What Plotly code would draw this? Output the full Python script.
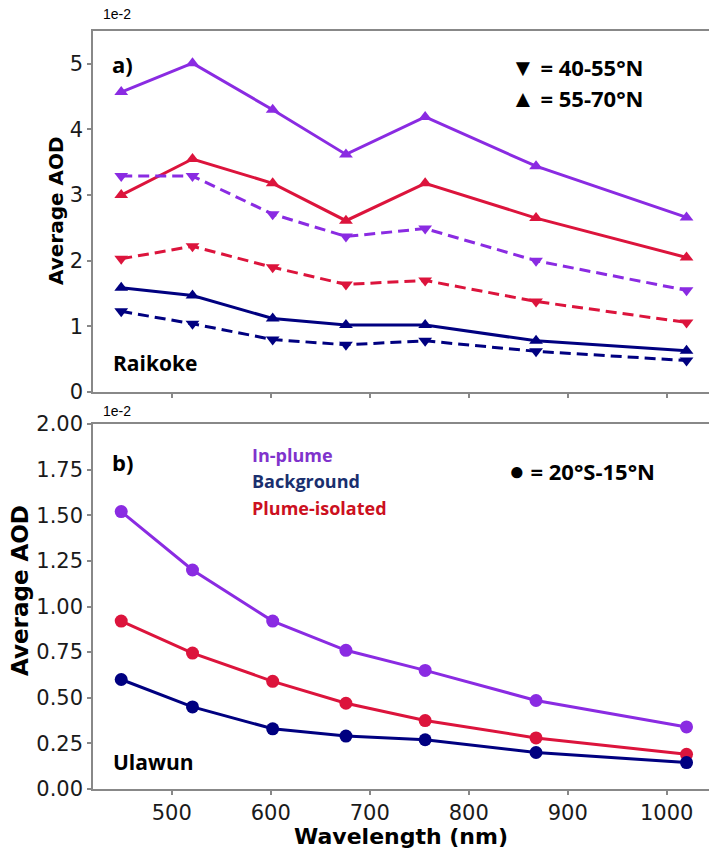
import plotly.graph_objects as go

# OMPS-LP wavelengths (nm)
wavelength = [449, 521, 602, 676, 756, 868, 1020]

# Raikoke (values x 1e-2)
raik_inplume_n = [4.57, 5.01, 4.30, 3.62, 4.19, 3.44, 2.66]      # 55-70N
raik_isolated_n = [3.00, 3.55, 3.18, 2.61, 3.18, 2.65, 2.05]
raik_backgr_n = [1.59, 1.47, 1.12, 1.02, 1.02, 0.78, 0.63]
raik_inplume_s = [3.29, 3.29, 2.71, 2.37, 2.49, 2.00, 1.55]      # 40-55N
raik_isolated_s = [2.03, 2.22, 1.90, 1.64, 1.70, 1.38, 1.06]
raik_backgr_s = [1.23, 1.04, 0.80, 0.72, 0.78, 0.62, 0.48]

# Ulawun (values x 1e-2), 20S-15N
ulaw_inplume = [1.52, 1.20, 0.92, 0.76, 0.65, 0.485, 0.34]
ulaw_isolated = [0.92, 0.745, 0.59, 0.47, 0.375, 0.28, 0.19]
ulaw_backgr = [0.60, 0.45, 0.33, 0.29, 0.27, 0.20, 0.145]

PURPLE = "#8A2BE2"
RED = "#DC143C"
NAVY = "#000080"

fig = go.Figure()


def add_line(x, y, color, symbol, dash, xa, ya, msize=12):
    fig.add_trace(go.Scatter(
        x=x, y=y, mode="lines+markers", xaxis=xa, yaxis=ya,
        line=dict(color=color, width=3, dash=dash),
        marker=dict(color=color, symbol=symbol, size=msize),
        showlegend=False, hoverinfo="skip",
    ))


dash = "11px,6px"
add_line(wavelength, raik_inplume_n, PURPLE, "triangle-up", "solid", "x", "y")
add_line(wavelength, raik_isolated_n, RED, "triangle-up", "solid", "x", "y")
add_line(wavelength, raik_backgr_n, NAVY, "triangle-up", "solid", "x", "y")
add_line(wavelength, raik_inplume_s, PURPLE, "triangle-down", dash, "x", "y")
add_line(wavelength, raik_isolated_s, RED, "triangle-down", dash, "x", "y")
add_line(wavelength, raik_backgr_s, NAVY, "triangle-down", dash, "x", "y")

add_line(wavelength, ulaw_inplume, PURPLE, "circle", "solid", "x2", "y2", 13)
add_line(wavelength, ulaw_isolated, RED, "circle", "solid", "x2", "y2", 13)
add_line(wavelength, ulaw_backgr, NAVY, "circle", "solid", "x2", "y2", 13)

tick_font = dict(family="DejaVu Sans", size=21, color="#1a1a1a")
axis_common = dict(
    showline=True, linecolor="#888888", linewidth=1.5,
    ticks="outside", ticklen=4, tickcolor="#888888", tickwidth=1.5,
    showgrid=False, zeroline=False, tickfont=tick_font,
)

xrange = [420.5, 1042.7]
xticks = [500, 600, 700, 800, 900, 1000]

fig.update_layout(
    width=709, height=851,
    margin=dict(l=93, r=0, t=31, b=62),
    paper_bgcolor="white", plot_bgcolor="white",
    xaxis=dict(domain=[0, 1], anchor="y", range=xrange, tickvals=xticks,
               showticklabels=False, mirror=True, **axis_common),
    yaxis=dict(domain=[0.5237, 1.0], anchor="x", range=[0, 5.5],
               tickvals=[0, 1, 2, 3, 4, 5], **axis_common),
    xaxis2=dict(domain=[0, 1], anchor="y2", range=xrange, tickvals=xticks,
                mirror=True, **axis_common),
    yaxis2=dict(domain=[0, 0.4815], anchor="x2", range=[0, 2.0],
                tickvals=[0, 0.25, 0.5, 0.75, 1.0, 1.25, 1.5, 1.75, 2.0],
                tickformat=".2f", **axis_common),
)

label_font = "Open Sans"


def px_x(px):
    return (px - 93) / 616


def px_y(py):
    return (789 - py) / 758


def ann(text, x, y, size=20, color="black", xanchor="left", bold=True,
        family=label_font, angle=0):
    fig.add_annotation(
        text=f"<b>{text}</b>" if bold else text,
        x=px_x(x), y=px_y(y), xref="paper", yref="paper",
        xanchor=xanchor, yanchor="middle",
        showarrow=False, textangle=angle,
        font=dict(family=family, size=size, color=color),
    )


# Axis titles
ann("Wavelength (nm)", 401, 836, size=22, xanchor="center", family="DejaVu Sans")
ann("Average AOD", 56, 211, size=20, xanchor="center", family="DejaVu Sans", angle=-90)
ann("Average AOD", 20, 591, size=23, xanchor="center", family="DejaVu Sans", angle=-90)

# Offset labels
ann("1e-2", 101, 14, size=14, bold=False, family="Liberation Sans")
ann("1e-2", 101, 411, size=14, bold=False, family="Liberation Sans")

# Panel a)
ann("a)", 110, 64, size=22)
ann('<span style="font-size:24px">▼</span> = 40-55°N', 509, 66, size=22)
ann('<span style="font-size:24px">▲</span> = 55-70°N', 509, 98, size=22)
ann("Raikoke", 111, 363, size=21)

# Panel b)
ann("b)", 110, 462, size=22)
ann("In-plume", 250, 455, size=18, color="#8033CC")
ann("Background", 250, 481, size=18, color="#1A2F6E")
ann("Plume-isolated", 250, 508, size=18, color="#CC1020")
ann('<span style="font-size:26px">●</span> = 20°S-15°N', 507, 470, size=22)
ann("Ulawun", 111, 762, size=21)

fig.write_html("out.html")
